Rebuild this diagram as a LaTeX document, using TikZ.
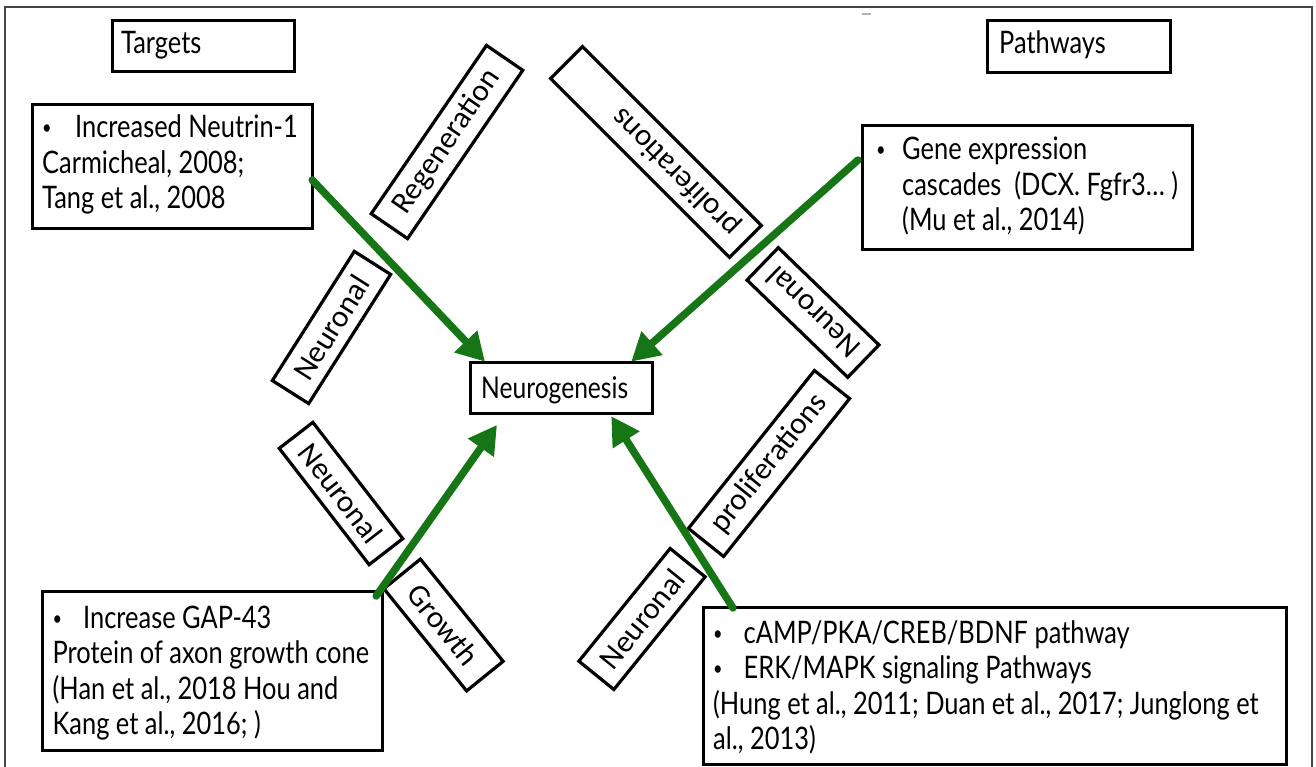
\documentclass[tikz,border=0pt]{standalone}
\usepackage{fontspec}
\usetikzlibrary{arrows.meta,calc}
\newfontfamily\bodyfont{Lato}[FakeStretch=0.82]
\newfontfamily\tagfont{Carlito}
\definecolor{arrowgreen}{RGB}{22,118,22}
\definecolor{framegray}{RGB}{70,70,70}
\newcommand{\bul}[1]{\makebox[#1][l]{\raisebox{3pt}{\fontsize{20}{20}\selectfont\textbullet}}}

\begin{document}
\begin{tikzpicture}[x=1pt,y=-1pt,
  box/.style={draw=black, line width=3.2pt, fill=white, inner sep=0pt, anchor=north west},
  txt/.style={anchor=base west, inner sep=0pt, font=\bodyfont\fontsize{31}{35.5}\selectfont},
  lbl/.style={draw=black, line width=3.2pt, fill=white, inner sep=0pt,
    font=\tagfont\fontsize{31}{36}\selectfont},
  garrow/.style={draw=arrowgreen, line width=7.5pt, line cap=round,
    -{Triangle[length=28pt,width=30pt]}}]
\useasboundingbox (0,0) rectangle (1316,767);

% outer frame
\draw[framegray, line width=1.5pt] (5,770) -- (5,7) -- (1312,7) -- (1312,770);
\draw[gray!60, line width=2pt] (862,14) -- (871,14);

% headings
\node[box, minimum width=182pt, minimum height=51pt] (targets) at (110.5,19) {};
\node[txt] (targetsT) at (121,54) {Targets};
\node[box, minimum width=183pt, minimum height=52pt] (pathways) at (986,19) {};
\node[txt] (pathwaysT) at (999,54) {Pathways};

% evidence boxes
\node[box, minimum width=280pt, minimum height=124pt] (neutrin) at (31,103) {};
\node[txt] (neutrinT) at (42,138) {\vtop{\hbox{\bul{33pt}Increased Neutrin-1}\hbox{Carmicheal, 2008;}\hbox{Tang et al., 2008}}};

\node[box, minimum width=329.5pt, minimum height=124pt] (gene) at (861,124) {};
\node[txt] (geneT) at (876,160) {\vtop{\hbox{\bul{26pt}Gene expression}\hbox{\hspace{26pt}cascades\ \ (DCX. Fgfr3… )}\hbox{\hspace{26pt}(Mu et al., 2014)}}};

\node[box, minimum width=182pt, minimum height=51pt] (neuro) at (469,361) {};
\node[txt, font=\bodyfont\fontsize{30}{35.5}\selectfont] (neuroT) at (481,398) {Neurogenesis};

\node[box, minimum width=340pt, minimum height=159pt] (gap) at (41,590) {};
\node[txt] (gapT) at (52.5,628) {\vtop{\hbox{\bul{30.5pt}Increase GAP-43}\hbox{Protein of axon growth cone}\hbox{(Han et al., 2018 Hou and}\hbox{Kang et al., 2016; )}}};

\node[box, minimum width=583pt, minimum height=157pt] (camp) at (702,606) {};
\node[txt] (campT) at (713,643) {\vtop{\hbox{\bul{30.5pt}cAMP/PKA/CREB/BDNF pathway}\hbox{\bul{30.5pt}ERK/MAPK signaling Pathways}\hbox{(Hung et al., 2011; Duan et al., 2017; Junglong et}\hbox{al., 2013)}}};

% tilted tags
\node[lbl, rotate=55.6, minimum width=204pt, minimum height=44pt] (regen) at (447,142) {Regeneration};
\node[lbl, rotate=135, minimum height=45pt, text width=225pt, inner xsep=14pt, align=left] (prolifA) at (656,152) {proliferations};
\node[lbl, rotate=57.6, minimum width=153pt, minimum height=43pt] (neuA) at (331.5,327.5) {Neuronal};
\node[lbl, rotate=-52.3, minimum width=147pt, minimum height=42.5pt] (neuB) at (341,493.5) {Neuronal};
\node[lbl, rotate=136, minimum width=140pt, minimum height=45pt] (neuC) at (813,312.5) {Neuronal};
\node[lbl, rotate=-51, minimum width=131.5pt, minimum height=47pt] (growth) at (443.5,625) {Growth};
\node[lbl, rotate=51, minimum width=145pt, minimum height=45pt] (neuD) at (642,619) {Neuronal};
\node[lbl, rotate=51.4, minimum width=202pt, minimum height=45pt] (prolifB) at (769,463.5) {proliferations};

% arrows into the central node
\draw[garrow] ($(neutrin.north east)+(-2,77)$) -- ($(neuro.north west)+(16,0.7)$);
\draw[garrow] ($(gene.north west)+(-3,36)$) -- ($(neuro.north east)+(-23,0.7)$);
\draw[garrow] ($(gap.north east)+(-8,6)$) -- ($(neuro.south west)+(28,9.7)$);
\draw[garrow] ($(camp.north west)+(31,2)$) -- ($(neuro.south east)+(-43,1)$);
\end{tikzpicture}
\end{document}
